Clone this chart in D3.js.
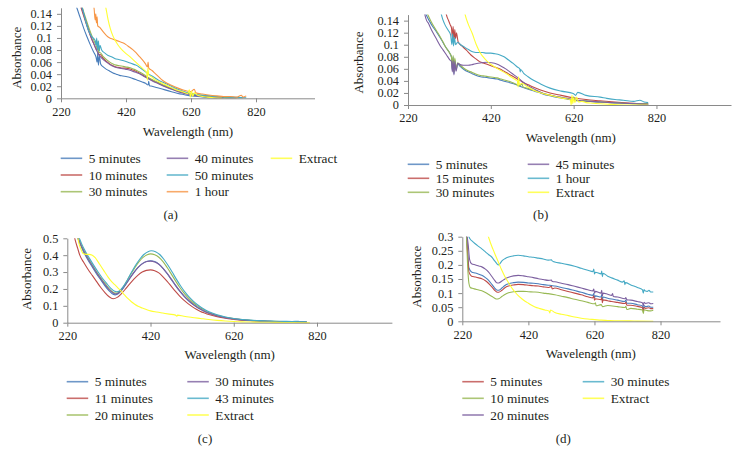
<!DOCTYPE html>
<html><head><meta charset="utf-8">
<script src="https://cdn.jsdelivr.net/npm/d3@7/dist/d3.min.js"></script>
<style>body{margin:0;background:#fff}svg{display:block}text{font-family:"Liberation Serif","Times New Roman",serif;fill:#231f20}</style>
</head><body>
<svg id="c" width="741" height="464"></svg>
<script>
// ---------- DATA ----------
const xTicks = [220, 420, 620, 820];
const yTicksA = [0, 0.02, 0.04, 0.06, 0.08, 0.1, 0.12, 0.14];
const yTicksB = [0, 0.02, 0.04, 0.06, 0.08, 0.1, 0.12, 0.14];
const yTicksC = [0, 0.1, 0.2, 0.3, 0.4, 0.5];
const yTicksD = [0, 0.05, 0.1, 0.15, 0.2, 0.25, 0.3];

// Panel (a)
const a5min = [[262,0.16],[270,0.148],[280,0.132],[290,0.116],[300,0.102],[310,0.089],[320,0.077],[328,0.068],[331,0.06],[333,0.075],[335,0.055],[338,0.07],[342,0.057],[350,0.052],[360,0.048],[370,0.045],[380,0.042],[390,0.04],[400,0.038],[410,0.037],[420,0.036],[430,0.035],[440,0.033],[450,0.031],[460,0.029],[470,0.027],[480,0.025],[488,0.022],[490,0.028],[492,0.021],[500,0.02],[520,0.017],[540,0.014],[560,0.011],[580,0.008],[600,0.006],[620,0.004],[640,0.003],[660,0.002],[680,0.001],[700,0.001]];
const a10min = [[276,0.16],[283,0.148],[293,0.131],[303,0.115],[313,0.1],[323,0.088],[330,0.08],[333,0.09],[335,0.072],[340,0.073],[350,0.066],[360,0.061],[370,0.057],[380,0.054],[390,0.052],[400,0.051],[410,0.05],[420,0.05],[430,0.049],[440,0.047],[450,0.045],[460,0.042],[470,0.039],[480,0.036],[490,0.033],[500,0.03],[520,0.025],[540,0.02],[560,0.016],[580,0.012],[600,0.009],[620,0.007],[640,0.005],[660,0.004],[680,0.003],[700,0.002],[730,0.001],[760,0.001]];
const a30min = [[280,0.16],[287,0.148],[297,0.131],[307,0.115],[317,0.101],[327,0.089],[332,0.083],[334,0.095],[336,0.076],[340,0.076],[350,0.069],[360,0.064],[370,0.06],[380,0.057],[390,0.055],[400,0.054],[410,0.053],[420,0.052],[430,0.051],[440,0.049],[450,0.047],[460,0.044],[470,0.041],[480,0.038],[490,0.034],[500,0.031],[520,0.026],[540,0.021],[560,0.017],[580,0.013],[600,0.01],[620,0.008],[640,0.006],[660,0.004],[680,0.003],[700,0.002],[740,0.001],[780,0.001]];
const a40min = [[278,0.16],[285,0.148],[295,0.13],[305,0.113],[315,0.098],[325,0.085],[330,0.079],[340,0.07],[350,0.064],[360,0.06],[370,0.056],[380,0.053],[390,0.051],[400,0.05],[410,0.049],[420,0.048],[430,0.047],[440,0.045],[450,0.043],[460,0.041],[470,0.038],[480,0.035],[490,0.032],[500,0.029],[520,0.024],[540,0.019],[560,0.015],[580,0.011],[600,0.008],[620,0.006],[640,0.004],[660,0.003],[680,0.002],[700,0.001],[720,0.001]];
const a50min = [[280,0.16],[288,0.145],[295,0.13],[304,0.113],[315,0.102],[325,0.096],[328,0.088],[330,0.1],[332,0.08],[335,0.095],[338,0.078],[340,0.088],[345,0.08],[355,0.075],[365,0.071],[375,0.069],[385,0.066],[400,0.064],[420,0.061],[435,0.058],[450,0.055],[460,0.052],[470,0.048],[480,0.044],[490,0.04],[500,0.037],[520,0.03],[540,0.025],[560,0.02],[580,0.015],[600,0.011],[620,0.008],[640,0.006],[660,0.005],[680,0.004],[700,0.003],[740,0.002],[790,0.001]];
const a1hour = [[318,0.16],[322,0.148],[325,0.13],[327,0.14],[329,0.125],[331,0.135],[333,0.12],[340,0.117],[350,0.11],[360,0.104],[370,0.1],[380,0.098],[390,0.096],[400,0.094],[410,0.092],[420,0.089],[430,0.085],[440,0.081],[450,0.076],[460,0.07],[470,0.064],[480,0.057],[486,0.052],[488,0.06],[490,0.05],[500,0.046],[510,0.041],[520,0.036],[532,0.03],[550,0.024],[570,0.019],[594,0.014],[620,0.011],[630,0.015],[635,0.009],[655,0.007],[680,0.005],[700,0.004],[720,0.003],[740,0.003],[760,0.002],[775,0.005],[780,0.002],[790,0.004]];
const aExtract = [[354,0.16],[358,0.15],[365,0.13],[372,0.115],[380,0.103],[390,0.093],[400,0.085],[410,0.079],[420,0.074],[430,0.07],[440,0.065],[450,0.06],[460,0.055],[470,0.05],[480,0.045],[484,0.042],[486,0.03],[487,0.05],[490,0.039],[500,0.035],[510,0.031],[520,0.028],[532,0.025],[550,0.02],[570,0.015],[594,0.011],[610,0.008],[615,0.014],[618,0.002],[622,0.012],[625,0.003],[630,0.009],[640,0.005],[655,0.003],[670,0.002],[690,0.001],[716,0]];

// Panel (b)
const b5min = [[258,0.16],[265,0.148],[278,0.132],[290,0.12],[300,0.109],[310,0.097],[320,0.087],[325,0.079],[327,0.058],[329,0.08],[331,0.052],[333,0.075],[336,0.058],[340,0.068],[346,0.064],[355,0.059],[365,0.055],[375,0.052],[385,0.049],[395,0.047],[405,0.046],[415,0.045],[425,0.044],[435,0.043],[445,0.041],[455,0.039],[466,0.037],[480,0.034],[490,0.031],[507,0.027],[520,0.024],[535,0.021],[547,0.018],[565,0.015],[585,0.012],[603,0.01],[620,0.008],[640,0.007],[660,0.006],[684,0.005],[710,0.004],[740,0.003],[770,0.002],[800,0.001]];
const b15min = [[310,0.16],[313,0.149],[318,0.14],[322,0.133],[325,0.128],[327,0.112],[329,0.13],[331,0.105],[333,0.125],[335,0.11],[337,0.12],[341,0.105],[350,0.098],[361,0.091],[372,0.083],[383,0.077],[393,0.072],[405,0.069],[417,0.066],[429,0.063],[441,0.06],[452,0.056],[462,0.052],[472,0.048],[482,0.044],[492,0.04],[502,0.036],[512,0.033],[522,0.03],[540,0.025],[563,0.02],[590,0.016],[619,0.012],[650,0.009],[684,0.007],[720,0.005],[765,0.003],[800,0.002]];
const b30min = [[262,0.16],[269,0.148],[280,0.133],[290,0.122],[298,0.113],[305,0.104],[312,0.095],[321,0.086],[325,0.08],[327,0.06],[329,0.082],[331,0.055],[333,0.078],[336,0.06],[340,0.07],[346,0.066],[355,0.061],[365,0.057],[375,0.054],[385,0.051],[395,0.049],[405,0.048],[415,0.047],[425,0.046],[435,0.045],[445,0.043],[455,0.041],[466,0.039],[480,0.035],[490,0.032],[495,0.035],[498,0.03],[507,0.028],[520,0.025],[535,0.022],[547,0.019],[565,0.016],[585,0.013],[603,0.011],[615,0.009],[620,0.013],[625,0.007],[640,0.007],[660,0.006],[684,0.005],[710,0.004],[740,0.003],[770,0.002],[800,0.002]];
const b45min = [[258,0.16],[261,0.149],[265,0.14],[269,0.136],[275,0.127],[281,0.119],[290,0.108],[298,0.098],[305,0.091],[313,0.083],[321,0.075],[325,0.072],[327,0.055],[329,0.074],[331,0.05],[333,0.072],[336,0.056],[340,0.069],[346,0.067],[354,0.066],[365,0.066],[375,0.067],[386,0.069],[398,0.07],[410,0.071],[422,0.07],[434,0.068],[446,0.064],[456,0.06],[466,0.055],[476,0.05],[486,0.045],[496,0.039],[507,0.033],[520,0.028],[535,0.023],[547,0.019],[565,0.016],[585,0.013],[603,0.011],[620,0.009],[640,0.007],[660,0.006],[684,0.005],[710,0.004],[740,0.003],[770,0.002],[800,0.001]];
const b1hour = [[298,0.16],[301,0.149],[308,0.135],[317,0.124],[323,0.116],[326,0.1],[328,0.118],[330,0.098],[332,0.112],[335,0.1],[340,0.104],[347,0.1],[354,0.097],[366,0.092],[378,0.088],[390,0.087],[400,0.087],[410,0.086],[420,0.086],[430,0.085],[442,0.083],[452,0.08],[462,0.075],[474,0.069],[484,0.063],[490,0.06],[491,0.055],[492,0.059],[500,0.052],[510,0.047],[522,0.0415],[540,0.035],[563,0.028],[590,0.023],[619,0.019],[625,0.016],[630,0.021],[650,0.016],[684,0.013],[700,0.011],[720,0.009],[740,0.008],[765,0.006],[780,0.008],[790,0.005],[800,0.004]];
const bExtract = [[355,0.16],[358,0.15],[365,0.135],[375,0.119],[385,0.1],[395,0.086],[405,0.077],[417,0.069],[430,0.063],[440,0.059],[450,0.055],[460,0.051],[470,0.046],[480,0.042],[484,0.04],[486,0.03],[487,0.047],[489,0.034],[495,0.036],[505,0.032],[522,0.025],[545,0.019],[571,0.015],[595,0.011],[612,0.009],[614,0.0],[616,0.016],[618,0.002],[620,0.012],[623,0.004],[627,0.013],[632,0.005],[640,0.006],[650,0.004],[665,0.003],[684,0.002],[710,0.001],[745,0],[800,0]];

// Panel (c)
const c5min = [[240,0.52],[245,0.5],[250,0.47],[260,0.415],[270,0.37],[280,0.33],[290,0.29],[300,0.255],[310,0.22],[320,0.19],[330,0.168],[335,0.165],[340,0.168],[350,0.19],[360,0.225],[370,0.262],[380,0.298],[390,0.328],[400,0.35],[410,0.363],[420,0.367],[430,0.362],[440,0.347],[450,0.322],[460,0.29],[470,0.255],[480,0.22],[490,0.187],[500,0.158],[510,0.133],[520,0.112],[530,0.094],[540,0.079],[550,0.066],[560,0.056],[580,0.04],[600,0.029],[620,0.022],[640,0.017],[660,0.013],[680,0.011],[700,0.009],[720,0.007],[740,0.006],[760,0.005],[780,0.005],[795,0.004]];
const c11min = [[236,0.52],[240,0.48],[245,0.44],[250,0.4],[260,0.355],[270,0.315],[280,0.28],[290,0.245],[300,0.21],[310,0.18],[320,0.155],[330,0.142],[340,0.15],[350,0.172],[360,0.2],[370,0.23],[380,0.258],[390,0.282],[400,0.3],[410,0.31],[420,0.313],[430,0.308],[440,0.295],[450,0.272],[460,0.245],[470,0.215],[480,0.185],[490,0.158],[500,0.134],[510,0.113],[520,0.095],[530,0.08],[540,0.067],[550,0.057],[560,0.048],[580,0.035],[600,0.026],[620,0.02],[640,0.015],[660,0.012],[680,0.01],[700,0.008],[720,0.006],[740,0.005],[760,0.004],[780,0.003],[795,0.003]];
const c20min = [[242,0.52],[247,0.5],[252,0.47],[262,0.42],[272,0.375],[282,0.335],[292,0.295],[302,0.26],[312,0.228],[322,0.198],[332,0.178],[337,0.175],[342,0.178],[352,0.203],[362,0.242],[372,0.285],[382,0.325],[392,0.36],[402,0.387],[412,0.403],[420,0.408],[430,0.403],[440,0.388],[450,0.362],[460,0.327],[470,0.288],[480,0.248],[490,0.21],[500,0.177],[510,0.148],[520,0.124],[530,0.104],[540,0.087],[550,0.073],[560,0.061],[580,0.044],[600,0.032],[620,0.024],[640,0.018],[660,0.014],[680,0.011],[700,0.009],[720,0.008],[740,0.007],[760,0.006],[780,0.005],[795,0.005]];
const c30min = [[241,0.52],[246,0.5],[251,0.47],[261,0.418],[271,0.373],[281,0.333],[291,0.294],[301,0.258],[311,0.224],[321,0.195],[331,0.174],[336,0.17],[341,0.173],[351,0.196],[361,0.23],[371,0.266],[381,0.3],[391,0.329],[401,0.35],[411,0.362],[420,0.365],[430,0.36],[440,0.346],[450,0.322],[460,0.292],[470,0.258],[480,0.223],[490,0.19],[500,0.161],[510,0.136],[520,0.114],[530,0.096],[540,0.081],[550,0.068],[560,0.057],[580,0.041],[600,0.03],[620,0.023],[640,0.017],[660,0.013],[680,0.011],[700,0.009],[720,0.007],[740,0.006],[760,0.005],[780,0.005],[795,0.004]];
const c43min = [[244,0.52],[249,0.5],[254,0.47],[264,0.42],[274,0.378],[284,0.338],[294,0.3],[304,0.265],[314,0.234],[324,0.205],[334,0.186],[339,0.183],[344,0.186],[354,0.212],[364,0.252],[374,0.297],[384,0.34],[394,0.376],[404,0.404],[414,0.421],[422,0.426],[432,0.421],[442,0.404],[452,0.376],[462,0.34],[472,0.3],[482,0.258],[492,0.219],[502,0.184],[512,0.154],[522,0.129],[532,0.108],[542,0.09],[552,0.075],[562,0.063],[580,0.047],[600,0.034],[620,0.025],[640,0.019],[660,0.015],[680,0.012],[700,0.01],[720,0.009],[740,0.008],[760,0.007],[775,0.009],[780,0.006],[795,0.006]];
const cExtract = [[244,0.52],[248,0.47],[252,0.44],[258,0.41],[265,0.405],[272,0.405],[280,0.4],[287,0.385],[294,0.36],[302,0.33],[310,0.3],[318,0.27],[326,0.245],[334,0.225],[342,0.205],[350,0.185],[358,0.163],[366,0.142],[374,0.124],[382,0.109],[390,0.097],[400,0.087],[410,0.078],[420,0.07],[435,0.063],[450,0.057],[465,0.051],[480,0.045],[483,0.038],[485,0.045],[500,0.038],[520,0.031],[540,0.025],[560,0.019],[580,0.014],[600,0.01],[620,0.007],[640,0.005],[660,0.004],[683,0.003],[720,0.002],[760,0.001],[803,0]];

// Panel (d)
const dSeries1 = [[232,0.32],[236,0.25],[240,0.19],[248,0.175],[260,0.171],[270,0.167],[279,0.163],[290,0.155],[299,0.146],[310,0.13],[318,0.118],[324,0.111],[330,0.11],[340,0.118],[349,0.127],[360,0.133],[375,0.137],[389,0.139],[405,0.138],[420,0.136],[435,0.135],[450,0.133],[465,0.13],[480,0.128],[490,0.127],[500,0.125],[520,0.12],[540,0.115],[560,0.109],[580,0.103],[600,0.096],[615,0.092],[618,0.098],[620,0.084],[623,0.09],[640,0.086],[642,0.095],[644,0.076],[646,0.086],[660,0.082],[672,0.079],[690,0.075],[712,0.07],[715,0.075],[718,0.064],[730,0.064],[750,0.059],[765,0.055],[768,0.04],[770,0.056],[775,0.052],[785,0.054],[790,0.05],[798,0.05]];
const d5min = [[232,0.32],[236,0.24],[240,0.175],[248,0.16],[260,0.157],[270,0.154],[279,0.151],[290,0.144],[299,0.135],[310,0.121],[318,0.11],[324,0.104],[330,0.103],[340,0.11],[349,0.119],[360,0.125],[375,0.129],[389,0.131],[405,0.13],[420,0.128],[435,0.126],[450,0.125],[465,0.122],[480,0.12],[490,0.124],[492,0.115],[500,0.118],[520,0.112],[540,0.106],[560,0.1],[580,0.094],[600,0.087],[615,0.083],[618,0.09],[620,0.075],[623,0.08],[640,0.077],[642,0.084],[644,0.066],[646,0.076],[660,0.073],[672,0.07],[690,0.067],[712,0.063],[715,0.067],[718,0.057],[730,0.057],[750,0.053],[765,0.049],[768,0.035],[770,0.05],[775,0.046],[785,0.048],[790,0.045],[798,0.045]];
const d10min = [[232,0.32],[236,0.2],[240,0.135],[244,0.12],[250,0.117],[260,0.114],[270,0.111],[279,0.108],[290,0.102],[300,0.095],[310,0.088],[318,0.082],[324,0.079],[330,0.08],[340,0.088],[349,0.095],[360,0.101],[375,0.105],[389,0.106],[405,0.106],[420,0.105],[435,0.104],[450,0.103],[465,0.1],[480,0.098],[500,0.094],[520,0.089],[540,0.084],[560,0.078],[580,0.073],[600,0.067],[621,0.062],[623,0.066],[625,0.055],[640,0.059],[645,0.052],[660,0.056],[690,0.052],[712,0.049],[715,0.053],[718,0.042],[730,0.046],[750,0.043],[765,0.04],[768,0.028],[770,0.041],[780,0.038],[790,0.037],[798,0.039]];
const d20min = [[232,0.32],[238,0.27],[242,0.22],[248,0.204],[260,0.2],[270,0.196],[279,0.193],[290,0.185],[299,0.175],[310,0.158],[318,0.145],[324,0.137],[330,0.136],[340,0.143],[349,0.15],[360,0.156],[375,0.161],[389,0.163],[405,0.161],[420,0.158],[435,0.155],[450,0.151],[465,0.148],[480,0.145],[490,0.146],[492,0.141],[500,0.14],[520,0.135],[540,0.13],[560,0.124],[580,0.118],[600,0.112],[615,0.108],[618,0.114],[620,0.1],[623,0.106],[640,0.1],[642,0.11],[644,0.09],[646,0.1],[660,0.096],[672,0.092],[675,0.098],[677,0.088],[690,0.086],[712,0.08],[715,0.084],[718,0.076],[730,0.075],[750,0.07],[765,0.066],[768,0.055],[770,0.067],[775,0.063],[785,0.066],[790,0.062],[798,0.063]];
const d30min = [[236,0.32],[240,0.3],[243,0.293],[250,0.284],[260,0.274],[270,0.265],[279,0.257],[290,0.246],[300,0.236],[309,0.228],[318,0.214],[325,0.204],[329,0.2],[333,0.203],[340,0.214],[349,0.222],[360,0.228],[375,0.232],[389,0.234],[405,0.232],[420,0.229],[435,0.227],[450,0.224],[465,0.221],[480,0.217],[490,0.218],[492,0.214],[500,0.21],[520,0.206],[540,0.201],[560,0.195],[580,0.188],[600,0.181],[615,0.176],[618,0.185],[620,0.168],[623,0.174],[640,0.168],[642,0.178],[644,0.158],[646,0.17],[660,0.16],[672,0.154],[690,0.146],[705,0.139],[710,0.144],[712,0.13],[714,0.137],[730,0.129],[750,0.12],[765,0.112],[768,0.1],[770,0.113],[773,0.108],[780,0.106],[785,0.11],[790,0.104],[798,0.104]];
const dExtract = [[292,0.32],[299,0.3],[306,0.276],[313,0.255],[320,0.235],[329,0.21],[340,0.18],[350,0.156],[360,0.137],[370,0.118],[380,0.103],[390,0.09],[400,0.08],[410,0.071],[420,0.064],[430,0.057],[440,0.051],[455,0.045],[470,0.04],[483,0.036],[485,0.03],[487,0.04],[500,0.031],[520,0.025],[541,0.02],[560,0.015],[580,0.011],[600,0.008],[621,0.006],[640,0.004],[660,0.003],[680,0.002],[702,0.002],[740,0.001],[798,0]];

// ---------- STYLE / LAYOUT ----------
const C = {blue:"#4a7ebb", red:"#be4b48", green:"#98b954", purple:"#7d60a0", teal:"#46aac5", orange:"#f79646", yellow:"#ffff33"};

const panels = [
  {cap:"(a)", x0:61, x1:314.5, yT:7.8, yB:98.3, yMax:0.15, yTicks:yTicksA,
   yLab:[16,57.8], xLab:[188,135.5], capPos:[170.7,218.5],
   series:[["5 minutes",a5min,C.blue],["10 minutes",a10min,C.red],["30 minutes",a30min,C.green],["40 minutes",a40min,C.purple],["50 minutes",a50min,C.teal],["1 hour",a1hour,C.orange],["Extract",aExtract,C.yellow]],
   legCols:[60.7,166.7,270.7], legRows:[158.3,175,191.7]},
  {cap:"(b)", x0:408, x1:731, yT:14.6, yB:105, yMax:0.15, yTicks:yTicksB,
   yLab:[358,62.5], xLab:[570.8,142.3], capPos:[540.7,218.5],
   series:[["5 minutes",b5min,C.blue],["15 minutes",b15min,C.red],["30 minutes",b30min,C.green],["45 minutes",b45min,C.purple],["1 hour",b1hour,C.teal],["Extract",bExtract,C.yellow]],
   legCols:[407.7,527.7], legRows:[164.3,178.3,192.3]},
  {cap:"(c)", x0:67.3, x1:391.9, yT:238.3, yB:322.7, yMax:0.5, yTicks:yTicksC,
   yLab:[26.7,279], xLab:[229.7,359.3], capPos:[205,442.7],
   series:[["5 minutes",c5min,C.blue],["11 minutes",c11min,C.red],["20 minutes",c20min,C.green],["30 minutes",c30min,C.purple],["43 minutes",c43min,C.teal],["Extract",cExtract,C.yellow]],
   legCols:[66.7,187.3], legRows:[381.7,398.3,415]},
  {cap:"(d)", x0:462.3, x1:720, yT:236.7, yB:321.3, yMax:0.3, yTicks:yTicksD,
   yLab:[416.7,276.7], xLab:[590.8,358], capPos:[563.3,442.7],
   series:[[null,dSeries1,C.blue],["5 minutes",d5min,C.red],["10 minutes",d10min,C.green],["20 minutes",d20min,C.purple],["30 minutes",d30min,C.teal],["Extract",dExtract,C.yellow]],
   legCols:[462.3,582.7], legRows:[381.7,398.3,415]}
];

const svg = d3.select("#c");
const axisCol = "#8a8a8a";
const fmt = v => String(+v.toFixed(2));

panels.forEach((p, i) => {
  const x = d3.scaleLinear().domain([220, 1000]).range([p.x0, p.x1]);
  const y = d3.scaleLinear().domain([0, p.yMax]).range([p.yB, p.yT]);
  const g = svg.append("g");
  const cid = "clip" + i;
  svg.append("clipPath").attr("id", cid).append("rect")
    .attr("x", p.x0).attr("y", p.yT).attr("width", p.x1 - p.x0).attr("height", p.yB - p.yT + 2);

  const line = d3.line().x(d => x(d[0])).y(d => y(d[1])).curve(d3.curveMonotoneX);
  const lg = g.append("g").attr("clip-path", `url(#${cid})`);
  p.series.forEach(s => {
    lg.append("path").attr("d", line(s[1])).attr("fill", "none")
      .attr("stroke", s[2]).attr("stroke-width", 1.1).attr("stroke-linejoin", "round");
  });

  // axes
  const ya = g.append("g").attr("transform", `translate(${p.x0},0)`)
    .call(d3.axisLeft(y).tickValues(p.yTicks).tickFormat(fmt).tickSizeInner(4).tickSizeOuter(0).tickPadding(5));
  const xa = g.append("g").attr("transform", `translate(0,${p.yB})`)
    .call(d3.axisBottom(x).tickValues(xTicks).tickFormat(d3.format("d")).tickSizeInner(4).tickSizeOuter(0).tickPadding(4.5));
  [ya, xa].forEach(a => {
    a.select(".domain").attr("stroke", axisCol);
    a.selectAll(".tick line").attr("stroke", axisCol);
    a.selectAll("text").attr("font-size", 12.3).attr("font-family", '"Liberation Serif",serif').attr("fill", "#231f20");
  });

  g.append("text").attr("transform", `translate(${p.yLab[0]},${p.yLab[1]}) rotate(-90)`)
    .attr("text-anchor", "middle").attr("dominant-baseline", "central").attr("font-size", 13).text("Absorbance");
  g.append("text").attr("x", p.xLab[0]).attr("y", p.xLab[1]).attr("text-anchor", "middle")
    .attr("font-size", 13).text("Wavelength (nm)");
  g.append("text").attr("x", p.capPos[0]).attr("y", p.capPos[1]).attr("text-anchor", "middle")
    .attr("font-size", 13).text(p.cap);

  // legend (column-major)
  const items = p.series.filter(s => s[0] !== null);
  const nRows = p.legRows.length;
  items.forEach((s, k) => {
    const cx = p.legCols[Math.floor(k / nRows)], cy = p.legRows[k % nRows];
    g.append("line").attr("x1", cx).attr("x2", cx + 21.5).attr("y1", cy).attr("y2", cy)
      .attr("stroke", s[2]).attr("stroke-width", 1.6).attr("opacity", 0.8);
    g.append("text").attr("x", cx + 28).attr("y", cy).attr("dy", "0.34em")
      .attr("font-size", 13.3).text(s[0]);
  });
});
</script>
</body></html>
